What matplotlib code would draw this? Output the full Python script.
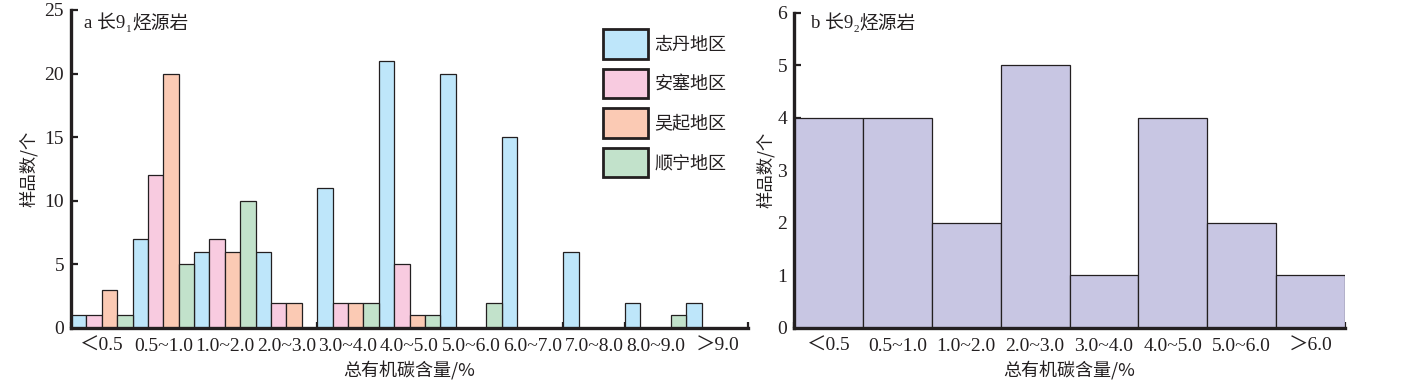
import matplotlib
matplotlib.use("Agg")
import matplotlib.pyplot as plt
import numpy as np

# ---------------- data ----------------
cats_a = ["＜0.5", "0.5~1.0", "1.0~2.0", "2.0~3.0", "3.0~4.0", "4.0~5.0",
          "5.0~6.0", "6.0~7.0", "7.0~8.0", "8.0~9.0", "＞9.0"]
zhidan = [1, 7, 6, 6, 11, 21, 20, 15, 6, 2, 2]
ansai = [1, 12, 7, 2, 2, 5, 0, 0, 0, 0, 0]
wuqi = [3, 20, 6, 2, 2, 1, 0, 0, 0, 0, 0]
shunning = [1, 5, 10, 0, 2, 1, 2, 0, 0, 1, 0]
series_names = ["志丹地区", "安塞地区", "吴起地区", "顺宁地区"]

cats_b = ["＜0.5", "0.5~1.0", "1.0~2.0", "2.0~3.0", "3.0~4.0", "4.0~5.0",
          "5.0~6.0", "＞6.0"]
counts_b = [4, 4, 2, 5, 1, 4, 2, 1]

xlabel = "总有机碳含量/%"
ylabel = "样品数/个"

# ---------------- style ----------------
colors = ["#bee6fa", "#f8cbe0", "#fbcab4", "#c2e2cb"]
purple = "#c8c6e3"
ink = "#231f20"
FAM = ["Liberation Serif", "Noto Sans CJK SC", "DejaVu Sans"]
CJK = ["Noto Sans CJK SC", "DejaVu Sans"]
plt.rcParams["font.family"] = FAM
plt.rcParams["text.color"] = ink
plt.rcParams["axes.labelcolor"] = ink
plt.rcParams["xtick.color"] = ink
plt.rcParams["ytick.color"] = ink

fig = plt.figure(figsize=(14.03, 3.88), dpi=100)
W, H = 1403, 388
axA = fig.add_axes([71 / W, 1 - 328 / H, (748 - 71) / W, (328 - 10) / H])
axB = fig.add_axes([794 / W, 1 - 328 / H, (1345 - 794) / W, (328 - 12.7) / H])


def style_axes(ax, ncat):
    for s in ["top", "right"]:
        ax.spines[s].set_visible(False)
    for s in ["left", "bottom"]:
        ax.spines[s].set_linewidth(2.4)
        ax.spines[s].set_color(ink)
        ax.spines[s].set_capstyle("projecting")
    ax.set_xlim(-0.5, ncat - 0.5)
    ax.set_xticks(np.arange(ncat))
    ax.set_xticks(np.arange(ncat + 1) - 0.5, minor=True)
    ax.tick_params(axis="x", which="major", length=0, pad=7, labelsize=14)
    ax.tick_params(axis="x", which="minor", direction="in", length=4, width=1.6)
    ax.tick_params(axis="y", direction="in", length=5, width=1.6, pad=5, labelsize=14)
    ax.set_xlabel(xlabel, fontsize=13, family=CJK, labelpad=5)
    ax.set_ylabel(ylabel, fontsize=12.5, family=CJK)


# ---------------- panel a ----------------
nA = len(cats_a)
x = np.arange(nA)
w = 0.25
for i, (vals, c, name) in enumerate(zip([zhidan, ansai, wuqi, shunning], colors, series_names)):
    xs = [xi + (i - 1.5) * w for xi, v in zip(x, vals) if v > 0]
    vs = [v for v in vals if v > 0]
    axA.bar(xs, vs, width=w, color=c, edgecolor=ink, linewidth=0.9, label=name, zorder=2)
axA.set_ylim(0, 25)
axA.set_yticks([0, 5, 10, 15, 20, 25])
style_axes(axA, nA)
axA.set_xticklabels(cats_a)
axA.yaxis.set_label_coords(-0.049, 0.5)

leg = axA.legend(loc="upper left", bbox_to_anchor=(0.786, 0.940), frameon=False,
                 prop={"family": CJK, "size": 13}, handlelength=2.5, handleheight=2.15,
                 labelspacing=0.55, handletextpad=0.35, borderpad=0, borderaxespad=0)
for h in leg.legend_handles:
    h.set_linewidth(2.0)
    h.set_edgecolor(ink)
for t in leg.get_texts():
    t.set_color(ink)

# ---------------- panel b ----------------
nB = len(cats_b)
axB.bar(np.arange(nB), counts_b, width=1.0, color=purple, edgecolor=ink, linewidth=0.9, zorder=2)
axB.set_ylim(0, 6)
axB.set_yticks(range(0, 7))
style_axes(axB, nB)
axB.set_xticklabels(cats_b)
axB.yaxis.set_label_coords(-0.034, 0.5)


def titled(letter, sub, xpix, ypix):
    t1 = fig.text(xpix / W, 1 - ypix / H, f"{letter} 长9", fontsize=13.5, family=FAM,
                  va="baseline", ha="left")
    t2 = fig.text(0, 0, sub, fontsize=8, family=FAM, va="baseline", ha="left")
    t3 = fig.text(0, 0, "烃源岩", fontsize=13.5, family=CJK, va="baseline", ha="left")
    fig.canvas.draw()
    r = fig.canvas.get_renderer()
    bb1 = t1.get_window_extent(r)
    t2.set_position(((bb1.x1 + 0.5) / W, 1 - (ypix + 3) / H))
    fig.canvas.draw()
    bb2 = t2.get_window_extent(r)
    t3.set_position(((bb2.x1 + 0.5) / W, 1 - ypix / H))


titled("a", "1", 84, 29)
titled("b", "2", 811, 29)

fig.savefig("out.png", dpi=100)
